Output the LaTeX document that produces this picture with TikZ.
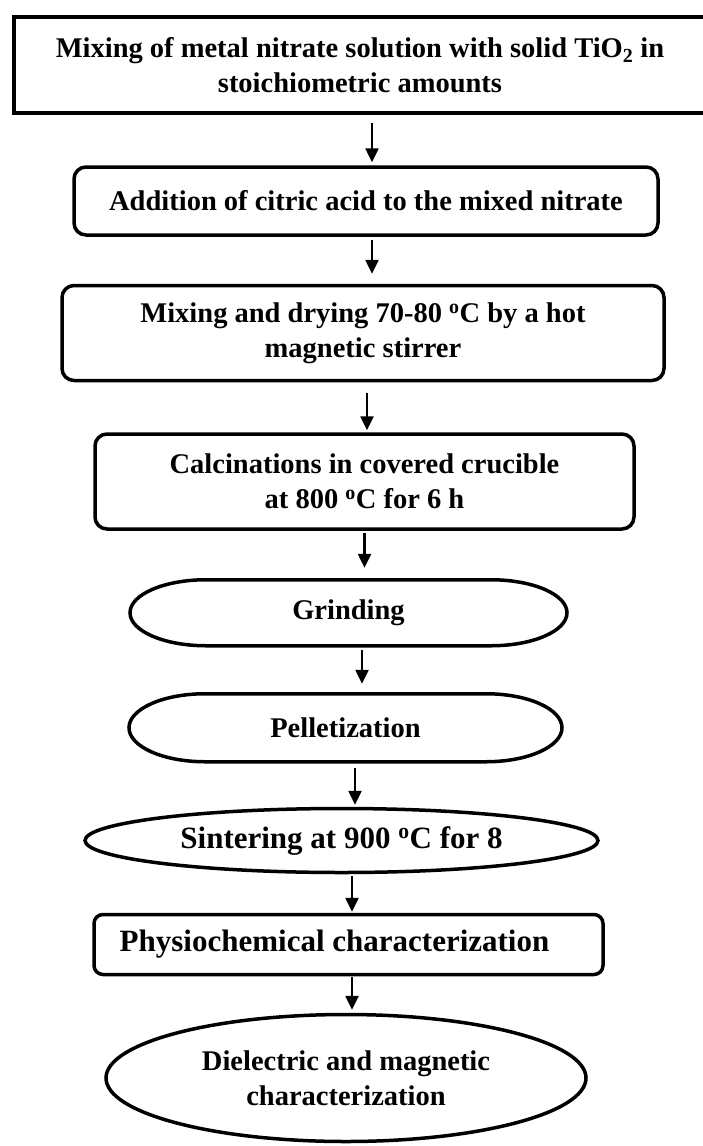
\documentclass[tikz,border=0pt]{standalone}
\usepackage{fontspec}
\setmainfont{Liberation Serif}
\usetikzlibrary{shapes.geometric, arrows.meta, positioning}

\newcommand{\stepfont}{\fontsize{28.5}{35}\selectfont\bfseries}
\newcommand{\bigstepfont}{\fontsize{31}{37}\selectfont\bfseries}

\tikzset{
    stepbox/.style={rectangle, rounded corners=12pt, draw=black, line width=3.5pt,
                    align=center, inner sep=0pt, font=\stepfont},
    topbox/.style={stepbox, sharp corners, line width=4.5pt},
    pill/.style={rectangle, inner sep=0pt, outer sep=0pt, align=center, font=\stepfont},
    pilledge/.style={draw=black, line width=3.5pt},
    oval/.style={ellipse, draw=black, line width=3.5pt, align=center,
                 inner sep=0pt, font=\stepfont},
    arrow/.style={-{Triangle[length=14pt,width=13pt]}, line width=2.5pt},
}

\begin{document}
\begin{tikzpicture}[x=1pt, y=-1pt]
    \useasboundingbox (0,0) rectangle (702,1146);
    \fill[white] (0,0) rectangle (702,1146);

    \node[topbox, minimum width=692pt, minimum height=96pt] (mix) at (360,65)
        {Mixing of metal nitrate solution with solid TiO\textsubscript{2} in\\stoichiometric amounts};
    \node[stepbox, below=50pt of mix, xshift=6pt, minimum width=584pt, minimum height=68pt] (citric)
        {Addition of citric acid to the mixed nitrate};
    \node[stepbox, below=47pt of citric, xshift=-3pt, minimum width=602pt, minimum height=95pt] (dry)
        {Mixing and drying 70-80 \textsuperscript{o}C by a hot\\magnetic stirrer};
    \node[stepbox, below=50pt of dry, xshift=1.5pt, minimum width=539pt, minimum height=95pt] (calc)
        {Calcinations in covered crucible\\at 800 \textsuperscript{o}C for 6 h};
    \node[pill, below=49pt of calc, xshift=-16pt, minimum width=437pt, minimum height=66pt] (grind)
        {Grinding};
    \node[pill, below=48pt of grind, xshift=-3pt, minimum width=433pt, minimum height=68pt] (pellet)
        {Pelletization};
    \node[oval, below=45pt of pellet, xshift=-4pt, minimum width=513pt, minimum height=64pt,
          font=\bigstepfont] (sinter)
        {Sintering at 900 \textsuperscript{o}C for 8};
    \node[stepbox, below=38.5pt of sinter, xshift=7pt, rounded corners=9pt, minimum width=509pt,
          minimum height=60pt, font=\bigstepfont] (physchar)
        {Physiochemical characterization\hspace*{28pt}};
    \node[oval, below=36.5pt of physchar, xshift=-2.5pt, minimum width=480pt, minimum height=127pt] (dielec)
        {Dielectric and magnetic\\characterization};

    % elliptic ends of the two pill shapes
    \foreach \n/\ry in {grind/33, pellet/34} {
        \draw[pilledge] ([xshift=76pt]\n.north west) -- ([xshift=-76pt]\n.north east)
            arc[start angle=90, end angle=-90, x radius=76pt, y radius=\ry pt]
            -- ([xshift=76pt]\n.south west)
            arc[start angle=270, end angle=90, x radius=76pt, y radius=\ry pt] -- cycle;
    }

    \draw[arrow, shorten <=8pt, shorten >=3pt] ([xshift=12pt]mix.south) -- ([xshift=12pt]mix.south |- citric.north);
    \draw[arrow, shorten <=3pt, shorten >=10pt] ([xshift=6pt]citric.south) -- ([xshift=6pt]citric.south |- dry.north);
    \draw[arrow, shorten <=11pt, shorten >=2pt] ([xshift=4pt]dry.south) -- ([xshift=4pt]dry.south |- calc.north);
    \draw[arrow, shorten <=2pt, shorten >=12pt] (calc.south) -- (calc.south |- grind.north);
    \draw[arrow, shorten <=4pt, shorten >=10pt] ([xshift=13.5pt]grind.south) -- ([xshift=13.5pt]grind.south |- pellet.north);
    \draw[arrow, shorten <=6pt, shorten >=2pt] ([xshift=9.5pt]pellet.south) -- ([xshift=9.5pt]pellet.south |- sinter.north);
    \draw[arrow, shorten <=2pt, shorten >=1pt] ([xshift=10.5pt]sinter.south) -- ([xshift=10.5pt]sinter.south |- physchar.north);
    \draw[arrow, shorten <=1pt, shorten >=3pt] ([xshift=3.5pt]physchar.south) -- ([xshift=3.5pt]physchar.south |- dielec.north);
\end{tikzpicture}
\end{document}
